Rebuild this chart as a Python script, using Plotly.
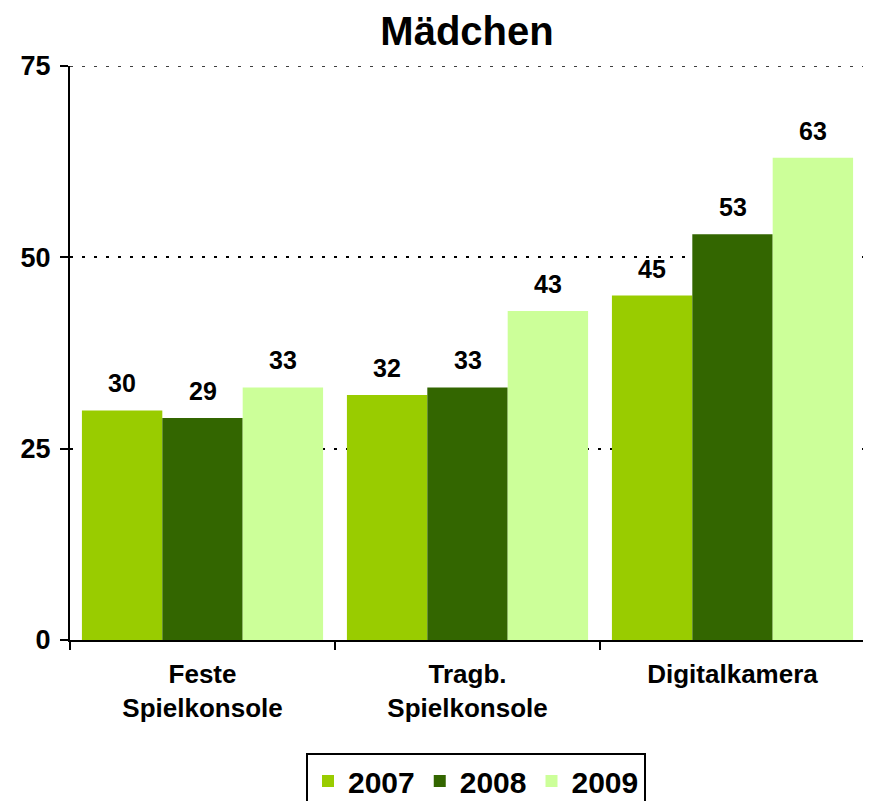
import plotly.graph_objects as go

categories = ["Feste<br>Spielkonsole", "Tragb.<br>Spielkonsole", "Digitalkamera"]
years = ["2007", "2008", "2009"]
values_2007 = [30, 32, 45]
values_2008 = [29, 33, 53]
values_2009 = [33, 43, 63]
colors = ["#99CC00", "#336600", "#CCFF99"]
y_ticks = [0, 25, 50, 75]

FONT = "Liberation Sans"
W, H = 871, 801
OFF = 8  # page body offset seen in screenshots
ML, MR, MT, MB = 70 - OFF, 14, 66 - OFF, H - (640 - OFF)
BARGAP = 0.09
plot_w = W - ML - MR
bar_w = plot_w / len(categories) * (1 - BARGAP) / len(years)

series = [values_2007, values_2008, values_2009]

fig = go.Figure()
for name, vals, col in zip(years, series, colors):
    fig.add_trace(go.Bar(
        x=categories, y=vals, name="<b>" + name + "</b>", marker_color=col,
        marker_line_width=0,
    ))

annotations = []
for k, vals in enumerate(series):
    for cat, v in zip(categories, vals):
        annotations.append(dict(
            x=cat, y=v, xref="x", yref="y", text=f"<b>{v}</b>", showarrow=False,
            xanchor="center", yanchor="bottom",
            xshift=(k - (len(series) - 1) / 2) * bar_w, yshift=11,
            font=dict(family=FONT, size=25, color="black"),
        ))

fig.update_layout(
    width=W, height=H,
    barmode="group", bargap=BARGAP, bargroupgap=0,
    plot_bgcolor="white", paper_bgcolor="white",
    margin=dict(l=ML, r=MR, t=MT, b=MB),
    title=dict(text="<b>Mädchen</b>", x=(467 - OFF) / W, xanchor="center",
               y=1 - (31 - OFF) / H, yanchor="middle",
               font=dict(family=FONT, size=40, color="black")),
    font=dict(family=FONT, color="black"),
    showlegend=True,
    legend=dict(orientation="h", xref="container", yref="container",
                x=(476 - OFF) / W, xanchor="center", y=1 - (753 - OFF) / H, yanchor="top",
                bordercolor="black", borderwidth=2,
                font=dict(family=FONT, size=30, color="black"),
                tracegroupgap=0),
    annotations=annotations,
    shapes=[dict(type="line", xref="paper", yref="y", x0=0, x1=1, y0=75, y1=75,
                 line=dict(color="black", width=1.5, dash="3px,9px"), layer="below")],
)
fig.update_xaxes(
    automargin=False,
    showline=True, linecolor="black", linewidth=2,
    ticks="outside", tickson="boundaries", ticklen=8, tickwidth=2, tickcolor="black",
    tickvals=categories, ticktext=["<b>" + c + "</b>" for c in categories],
    tickfont=dict(family=FONT, size=26, color="black"),
    ticklabelstandoff=10,
    showgrid=False,
)
fig.update_yaxes(
    automargin=False,
    range=[0, 75], tickvals=y_ticks, ticktext=[f"<b>{v}</b>" for v in y_ticks],
    showline=True, linecolor="black", linewidth=2,
    ticks="outside", ticklen=8, tickwidth=2, tickcolor="black",
    tickfont=dict(family=FONT, size=27, color="black"),
    ticklabelstandoff=4,
    showgrid=True, gridcolor="black", gridwidth=1.5, griddash="3px,9px",
    zeroline=False,
)

fig.write_html("out.html")
